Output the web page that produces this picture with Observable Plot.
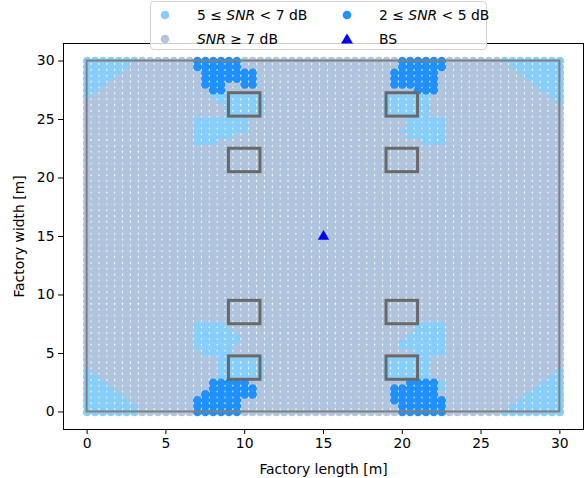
<!DOCTYPE html>
<html><head><meta charset="utf-8">
<script src="https://cdn.jsdelivr.net/npm/d3@7"></script>
<script src="https://cdn.jsdelivr.net/npm/@observablehq/plot@0.6"></script>
<style>
html,body{margin:0;padding:0;background:#fff;}
#wrap{position:relative;width:584px;height:478px;font-family:"DejaVu Sans",sans-serif;overflow:hidden;}
#chart{position:absolute;left:0;top:0;}
#legend{position:absolute;left:150px;top:1px;width:337px;height:49px;box-sizing:border-box;border:1px solid #d4d4d4;border-radius:4px;background:rgba(255,255,255,0.8);font-size:13.9px;color:#000;}
.item{position:absolute;white-space:nowrap;line-height:16px;}
.mk{position:absolute;}
</style></head><body>
<div id="wrap"><div id="chart"></div><div id="legend"></div></div>
<script>
// grid of measurement positions (m)
const gridX = [0,0.5,1,1.5,2,2.5,3,3.5,4,4.5,5,5.5,6,6.5,7,7.5,8,8.5,9,9.5,10,10.5,11,11.5,12,12.5,13,13.5,14,14.5,15,15.5,16,16.5,17,17.5,18,18.5,19,19.5,20,20.5,21,21.5,22,22.5,23,23.5,24,24.5,25,25.5,26,26.5,27,27.5,28,28.5,29,29.5,30];
const gridY = [0,0.5,1,1.5,2,2.5,3,3.5,4,4.5,5,5.5,6,6.5,7,7.5,8,8.5,9,9.5,10,10.5,11,11.5,12,12.5,13,13.5,14,14.5,15,15.5,16,16.5,17,17.5,18,18.5,19,19.5,20,20.5,21,21.5,22,22.5,23,23.5,24,24.5,25,25.5,26,26.5,27,27.5,28,28.5,29,29.5,30];

// runs of grid points per row: [y, xFrom, xTo] ; all others are SNR >= 7 dB
const midRuns = [
  [30,0,3],[29.5,0,2.5],[29,0,2],[28.5,0,1.5],[28,0,1],[27.5,0,0.5],[27,0,0],
  [30,26.5,30],[29.5,27,30],[29,27.5,30],[28.5,28,30],[28,28.5,30],[27.5,29,30],[27,29.5,30],[26.5,30,30],
  [0,0,3],[0.5,0,3],[1,0,2.5],[1.5,0,2],[2,0,1.5],[2.5,0,1],[3,0,0.5],[3.5,0,0],
  [0,26.5,30],[0.5,27,30],[1,27.5,30],[1.5,28,30],[2,28.5,30],[2.5,29,30],[3,29.5,30],[3.5,30,30],
  [27,8,11],[26.5,8.5,11],[26,9,11],[25.5,9,11],
  [25,7,10],[24.5,7,10],[24,7,10],[23.5,7,9],[23,7,8],
  [27,19,21.5],[26.5,19,21.5],[26,19,21.5],[25.5,19,21.5],
  [25,20.5,22.5],[24.5,20.5,22.5],[24,20,22.5],[23.5,20.5,22.5],[23,21.5,22.5],
  [4.5,8.5,11],[4,8.5,11],[3.5,8.5,11],[3,8.5,11],
  [7.5,7,8.5],[7,7,9],[6.5,7,9.5],[6,7,9.5],[5.5,7,9],[5,7.5,9],
  [4.5,19,21.5],[4,19,21.5],[3.5,19,21.5],[3,19,21.5],[2.5,22.5,22.5],[2,22.5,22.5],
  [7.5,21,22.5],[7,21,22.5],[6.5,20.5,22.5],[6,20,22.5],[5.5,20,22.5],[5,21,22.5]
];
const lowRuns = [
  [30,7,9.5],[29.5,7,9.5],[29,7.5,10.5],[28.5,7.5,10.5],[28,7.5,8.5],[28,10,10.5],[27.5,8,8.5],
  [30,20,22.5],[29.5,20,22.5],[29,19.5,22],[28.5,19.5,22],[28,19.5,22],[27.5,21,22],
  [2.5,8,10],[2,8,10.5],[1.5,7.5,10.5],[1,7,9.5],[0.5,7,9.5],[0,7,9.5],
  [2.5,20.5,22],[2,19.5,22],[1.5,19.5,22],[1,19.5,22.5],[0.5,20,22.5],[0,20,22.5]
];

const classNames = ["mid","high","low"];
const classColors = ["#87cefa","#b0c4de","#1e90ff"];

const obsX = [10,10,10,10,20,20,20,20];
const obsY = [3.75,8.5,21.5,26.25,3.75,8.5,21.5,26.25];
const obsSize = 2;
const factoryL = 30, factoryW = 30;
const bsX = [15], bsY = [15];
const xTicks = [0,5,10,15,20,25,30];
const yTicks = [0,5,10,15,20,25,30];

function inRuns(runs, x, y){
  return runs.some(r => r[0] === y && x >= r[1] && x <= r[2]);
}
const points = [];
for (const y of gridY) for (const x of gridX) {
  let c = "high";
  if (inRuns(midRuns, x, y)) c = "mid";
  if (inRuns(lowRuns, x, y)) c = "low";
  points.push({x, y, c});
}
const obstacles = obsX.map((x, i) => ({x, y: obsY[i]}));
const factory = [{x1: 0, x2: factoryL, y1: 0, y2: factoryW}];
const bs = bsX.map((x, i) => ({x, y: bsY[i]}));

const color = d3.scaleOrdinal(classNames, classColors);

const chart = Plot.plot({
  width: 584, height: 478,
  marginLeft: 63, marginRight: 1, marginTop: 43, marginBottom: 49,
  style: {fontFamily: "DejaVu Sans", fontSize: "13.9px", color: "#000", background: "transparent", overflow: "visible"},
  x: {domain: [-1.5, 31.5], ticks: xTicks, label: "Factory length [m]", labelAnchor: "center", labelArrow: "none", labelOffset: 44, tickSize: 5, tickPadding: 4},
  y: {domain: [-1.5, 31.5], ticks: yTicks, label: "Factory width [m]", labelAnchor: "center", labelArrow: "none", labelOffset: 49, tickSize: 5, tickPadding: 4},
  marks: [
    ...classNames.map(cn => Plot.dot(points.filter(p => p.c === cn), {x: "x", y: "y", r: 4.3, fill: color(cn), stroke: "none"})),
    Plot.rect(factory, {x1: "x1", x2: "x2", y1: "y1", y2: "y2", fill: "none", stroke: "#808080", strokeWidth: 2}),
    Plot.rect(obstacles, {x1: d => d.x - obsSize/2, x2: d => d.x + obsSize/2, y1: d => d.y - obsSize/2, y2: d => d.y + obsSize/2, fill: "none", stroke: "#696969", strokeWidth: 3}),
    Plot.dot(bs, {x: "x", y: "y", symbol: "triangle", r: 4.2, fill: "#0000ff", stroke: "none"}),
    Plot.frame({stroke: "#000", strokeWidth: 1})
  ]
});
document.getElementById("chart").appendChild(chart);

// legend
const legendItems = [
  {html: "5 ≤ <i>SNR</i> &lt; 7 dB", color: classColors[0], shape: "circle", left: 14, top: 13},
  {html: "<i>SNR</i> ≥ 7 dB", color: classColors[1], shape: "circle", left: 14, top: 37},
  {html: "2 ≤ <i>SNR</i> &lt; 5 dB", color: classColors[2], shape: "circle", left: 196, top: 13},
  {html: "BS", color: "#0000ff", shape: "triangle", left: 196, top: 37}
];
const lg = document.getElementById("legend");
for (const it of legendItems) {
  const mk = document.createElementNS("http://www.w3.org/2000/svg", "svg");
  mk.setAttribute("width", 16); mk.setAttribute("height", 16);
  mk.setAttribute("class", "mk");
  mk.style.left = (it.left - 8) + "px"; mk.style.top = (it.top - 8) + "px";
  if (it.shape === "circle") {
    mk.innerHTML = `<circle cx="8" cy="8" r="4.3" fill="${it.color}"/>`;
  } else {
    mk.innerHTML = `<path d="M8,2.5 L14,12.5 L2,12.5 Z" fill="${it.color}"/>`;
  }
  lg.appendChild(mk);
  const t = document.createElement("div");
  t.className = "item";
  t.innerHTML = it.html;
  t.style.left = (it.left + 32) + "px";
  t.style.top = (it.top - 8) + "px";
  lg.appendChild(t);
}
</script>
</body></html>
